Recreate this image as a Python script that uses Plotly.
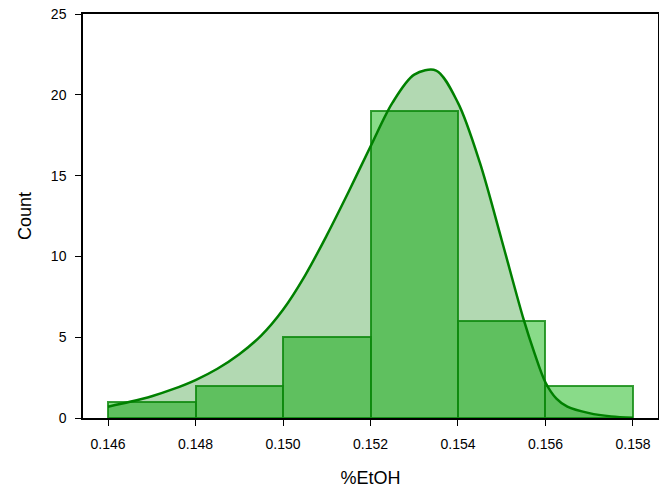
import plotly.graph_objects as go

bin_left = [0.146, 0.148, 0.150, 0.152, 0.154, 0.156]
bin_width = 0.002
counts = [1, 2, 5, 19, 6, 2]

curve_x = [0.1460, 0.1465, 0.1470, 0.1475, 0.1480, 0.1485, 0.1490, 0.1495,
           0.1500, 0.1505, 0.1510, 0.1515, 0.1520, 0.1525, 0.1530, 0.1535,
           0.1540, 0.1545, 0.1550, 0.1555, 0.15575, 0.1560, 0.15625,
           0.1565, 0.1570, 0.1575, 0.1580]
curve_y = [0.7, 1.0, 1.35, 1.8, 2.35, 3.05, 3.95, 5.1,
           6.7, 8.8, 11.3, 14.0, 16.8, 19.5, 21.25, 21.5,
           19.5, 15.8, 11.0, 6.1, 4.0, 2.2, 1.2,
           0.7, 0.3, 0.1, 0.02]

x_ticks = [0.146, 0.148, 0.150, 0.152, 0.154, 0.156, 0.158]
x_tick_labels = ["0.146", "0.148", "0.150", "0.152", "0.154", "0.156", "0.158"]
y_ticks = [0, 5, 10, 15, 20, 25]

centers = [b + bin_width / 2 for b in bin_left]

fig = go.Figure()
fig.add_trace(go.Scatter(
    x=curve_x, y=curve_y, mode="lines",
    line=dict(width=0, shape="spline", smoothing=0.9),
    fill="tozeroy", fillcolor="rgba(0,128,0,0.30)", hoverinfo="skip", showlegend=False))
fig.add_trace(go.Bar(
    x=centers, y=counts, width=bin_width,
    marker=dict(color="rgba(40,190,40,0.55)",
                line=dict(color="rgba(20,140,20,0.85)", width=2)),
    showlegend=False))
fig.add_trace(go.Scatter(
    x=curve_x, y=curve_y, mode="lines",
    line=dict(color="#008000", width=2.5, shape="spline", smoothing=0.9),
    showlegend=False))

fig.update_layout(
    width=659, height=491,
    margin=dict(l=83, r=1, t=14, b=73, autoexpand=False),
    plot_bgcolor="white", paper_bgcolor="white",
    font=dict(family="Liberation Sans, Arial, sans-serif", size=14, color="black"),
    bargap=0,
)
fig.update_xaxes(
    range=[0.145428, 0.158572], tickvals=x_ticks, ticktext=x_tick_labels,
    showline=True, linecolor="black", linewidth=1.5, mirror=True,
    ticks="outside", ticklen=6, tickcolor="black", showgrid=False, zeroline=False,
    automargin=False, ticklabelstandoff=6,
    title=dict(text="%EtOH", font=dict(size=18), standoff=21))
fig.update_yaxes(
    range=[0, 25], tickvals=y_ticks,
    showline=True, linecolor="black", linewidth=1.5, mirror=True,
    ticks="outside", ticklen=6, tickcolor="black", showgrid=False, zeroline=False,
    automargin=False, ticklabelstandoff=6,
    title=dict(text="Count", font=dict(size=18), standoff=15))

fig.write_html("out.html", config={"displayModeBar": False},
               post_script="document.body.style.margin='0';")
